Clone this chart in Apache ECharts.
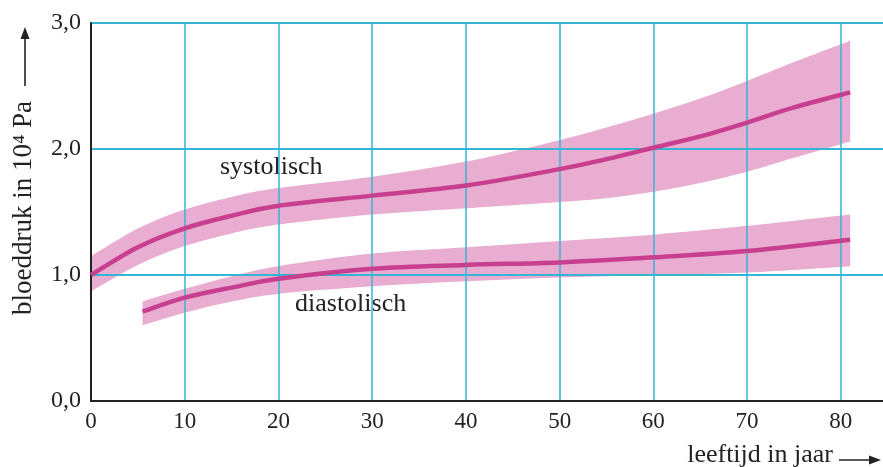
<!DOCTYPE html>
<html>
<head>
<meta charset="utf-8">
<script src="https://cdn.jsdelivr.net/npm/echarts@6/dist/echarts.min.js"></script>
<style>
html,body{margin:0;padding:0;background:#fff;overflow:hidden;}
#chart{width:883px;height:467px;}
</style>
</head>
<body>
<div id="chart"></div>
<script>
// x-axis ticks (leeftijd in jaar) and y-axis ticks (bloeddruk in 10^4 Pa)
var xTicks = [0, 10, 20, 30, 40, 50, 60, 70, 80];
var yTickLabels = ['0,0', '1,0', '2,0', '3,0'];

// systolisch
var sysAge   = [0, 5, 10, 15, 20, 30, 40, 50, 55, 60, 65, 70, 75, 81];
var sysMean  = [1.00, 1.22, 1.37, 1.47, 1.55, 1.63, 1.71, 1.84, 1.92, 2.01, 2.10, 2.21, 2.33, 2.45];
var sysUpper = [1.15, 1.37, 1.52, 1.62, 1.69, 1.78, 1.90, 2.07, 2.17, 2.28, 2.40, 2.54, 2.69, 2.86];
var sysLower = [0.87, 1.08, 1.23, 1.33, 1.40, 1.48, 1.53, 1.58, 1.61, 1.66, 1.73, 1.82, 1.93, 2.06];

// diastolisch
var diaAge   = [5.5, 10, 15, 20, 30, 40, 50, 60, 70, 81];
var diaMean  = [0.71, 0.82, 0.90, 0.97, 1.05, 1.08, 1.10, 1.14, 1.19, 1.28];
var diaUpper = [0.79, 0.89, 0.99, 1.07, 1.17, 1.22, 1.27, 1.32, 1.39, 1.48];
var diaLower = [0.60, 0.70, 0.79, 0.85, 0.91, 0.95, 0.98, 1.00, 1.02, 1.07];

var labelSys = 'systolisch';
var labelDia = 'diastolisch';
var xName = 'leeftijd in jaar';
var yName = 'bloeddruk in 10\u2074 Pa';

function pairs(xs, ys) { return xs.map(function (x, i) { return [x, ys[i]]; }); }

var FONT = '"Liberation Serif", "DejaVu Serif", serif';
var BAND = '#e8add0';
var LINE = '#c83f8f';
var GRIDC = '#35b5d4';

// Catmull-Rom -> cubic bezier path segments through pixel points
function curveSegs(pts, t) {
  var s = '';
  for (var i = 0; i < pts.length - 1; i++) {
    var p0 = pts[Math.max(i - 1, 0)], p1 = pts[i], p2 = pts[i + 1], p3 = pts[Math.min(i + 2, pts.length - 1)];
    var c1x = p1[0] + (p2[0] - p0[0]) * t, c1y = p1[1] + (p2[1] - p0[1]) * t;
    var c2x = p2[0] - (p3[0] - p1[0]) * t, c2y = p2[1] - (p3[1] - p1[1]) * t;
    s += ' C' + c1x + ' ' + c1y + ' ' + c2x + ' ' + c2y + ' ' + p2[0] + ' ' + p2[1];
  }
  return s;
}

function bandSeries(name, xs, up, lo) {
  return {
    name: name, type: 'custom', silent: true, z: -1,
    data: xs.map(function (x, i) { return [x, lo[i], up[i]]; }),
    encode: { x: 0, y: [1, 2] },
    renderItem: function (params, api) {
      if (params.dataIndex !== 0) return null;
      var U = xs.map(function (x, i) { return api.coord([x, up[i]]); });
      var L = xs.map(function (x, i) { return api.coord([x, lo[i]]); }).reverse();
      var d = 'M' + U[0][0] + ' ' + U[0][1] + curveSegs(U, 1 / 6) +
              ' L' + L[0][0] + ' ' + L[0][1] + curveSegs(L, 1 / 6) + ' Z';
      return { type: 'path', shape: { pathData: d }, style: { fill: BAND, stroke: null } };
    }
  };
}

function meanSeries(name, xs, ys) {
  return {
    name: name, type: 'custom', silent: true, z: 3,
    data: pairs(xs, ys),
    encode: { x: 0, y: 1 },
    renderItem: function (params, api) {
      if (params.dataIndex !== 0) return null;
      var P = xs.map(function (x, i) { return api.coord([x, ys[i]]); });
      var d = 'M' + P[0][0] + ' ' + P[0][1] + curveSegs(P, 1 / 6);
      return { type: 'path', shape: { pathData: d },
        style: { fill: null, stroke: LINE, lineWidth: 4.5, lineCap: 'butt', lineJoin: 'round' } };
    }
  };
}

var chart = echarts.init(document.getElementById('chart'), null, { renderer: 'canvas' });
var option = {
  animation: false,
  backgroundColor: '#ffffff',
  grid: { left: 91, right: 0, top: 23, bottom: 66, containLabel: false },
  xAxis: {
    type: 'value', min: 0, max: 84.5, interval: 10,
    axisLine: { show: true, onZero: false, lineStyle: { color: '#222', width: 2 } },
    axisTick: { show: false },
    splitLine: { show: true, showMaxLine: false, lineStyle: { color: GRIDC, width: 1.5 } },
    axisLabel: { color: '#222', fontFamily: FONT, fontSize: 23, margin: 9, showMaxLabel: false,
      formatter: function (v) { return xTicks.indexOf(v) >= 0 ? String(v) : ''; } }
  },
  yAxis: {
    type: 'value', min: 0, max: 3, interval: 1,
    axisLine: { show: true, onZero: false, lineStyle: { color: '#222', width: 2 } },
    axisTick: { show: false },
    splitLine: { show: true, lineStyle: { color: GRIDC, width: 2 } },
    axisLabel: { color: '#222', fontFamily: FONT, fontSize: 24, margin: 10,
      formatter: function (v) { return yTickLabels[Math.round(v)]; } }
  },
  series: [
    bandSeries('sysBand', sysAge, sysUpper, sysLower),
    bandSeries('diaBand', diaAge, diaUpper, diaLower),
    meanSeries(labelSys, sysAge, sysMean),
    meanSeries(labelDia, diaAge, diaMean)
  ],
  graphic: [
    { type: 'text', left: 220, top: 154, style: { text: labelSys, font: '26px ' + FONT, fill: '#222' } },
    { type: 'text', left: 295, top: 291, style: { text: labelDia, font: '26px ' + FONT, fill: '#222' } },
    { type: 'text', right: 50, top: 442, style: { text: xName, font: '26px ' + FONT, fill: '#222' } },
    { type: 'line', shape: { x1: 839, y1: 460, x2: 872, y2: 460 }, style: { stroke: '#222', lineWidth: 1.6 } },
    { type: 'polygon', shape: { points: [[881, 460], [869, 455.5], [869, 464.5]] }, style: { fill: '#222' } },
    { type: 'text', x: 24, y: 208, rotation: Math.PI / 2, style: { text: yName, font: '27px ' + FONT, fill: '#222',
        align: 'center', verticalAlign: 'middle' } },
    { type: 'line', shape: { x1: 25, y1: 86, x2: 25, y2: 36 }, style: { stroke: '#222', lineWidth: 1.6 } },
    { type: 'polygon', shape: { points: [[25, 27], [20.5, 39], [29.5, 39]] }, style: { fill: '#222' } }
  ]
};
chart.setOption(option);
</script>
</body>
</html>
